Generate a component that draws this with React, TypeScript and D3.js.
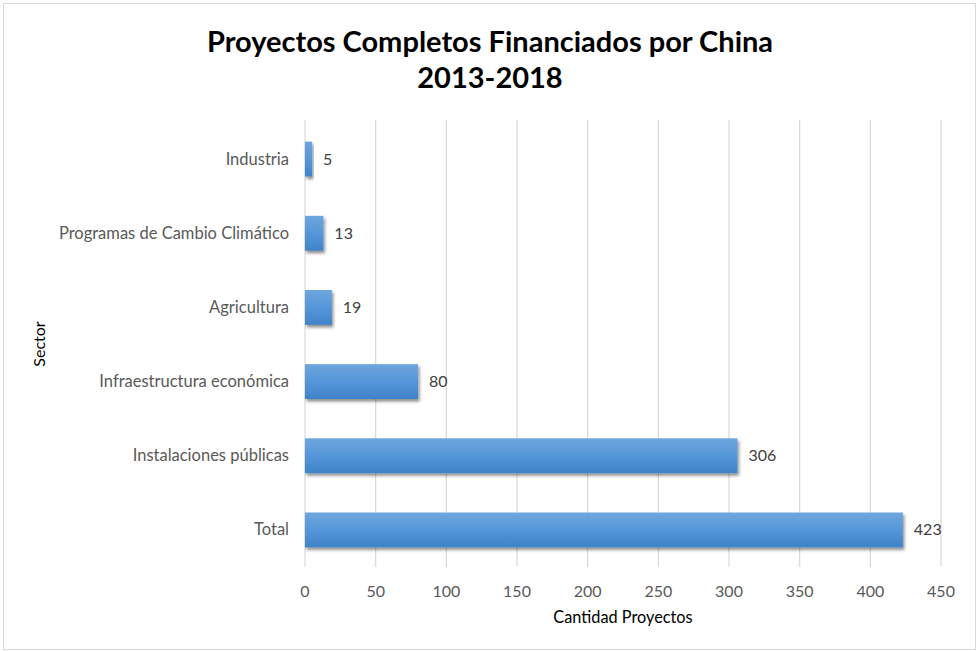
import React from "react";
import * as d3 from "d3";

const categories = [
  "Industria",
  "Programas de Cambio Climático",
  "Agricultura",
  "Infraestructura económica",
  "Instalaciones públicas",
  "Total",
];
const values = [5, 13, 19, 80, 306, 423];
const xTicks = [0, 50, 100, 150, 200, 250, 300, 350, 400, 450];
const titleLines = ["Proyectos Completos Financiados por China", "2013-2018"];
const xTitle = "Cantidad Proyectos";
const yTitle = "Sector";

const W = 977;
const H = 651;
const FONT = "Lato, 'Open Sans', sans-serif";

export default function App() {
  const x = d3.scaleLinear().domain([0, 450]).range([305, 941]);
  const y = d3.scaleBand().domain(categories).range([122, 567]).paddingInner(0.53).paddingOuter(0.265);
  const bw = y.bandwidth();
  return (
    <svg
      width={W}
      height={H}
      style={{ position: "absolute", left: 0, top: 0, background: "#fff" }}
      fontFamily={FONT}
    >
      <defs>
        <linearGradient id="barGrad" x1="0" y1="0" x2="0" y2="1">
          <stop offset="0" stopColor="#6ea6dd" />
          <stop offset="0.5" stopColor="#5597d9" />
          <stop offset="1" stopColor="#3f83c8" />
        </linearGradient>
        <filter id="shadow" x="-10%" y="-30%" width="130%" height="180%">
          <feDropShadow dx="1.5" dy="2.5" stdDeviation="1.6" floodColor="#000" floodOpacity="0.45" />
        </filter>
      </defs>
      <rect x={3.5} y={3.5} width={W - 5} height={H - 5} fill="#fff" stroke="#d9d9d9" strokeWidth={1} />
      {titleLines.map((t, i) => (
        <text
          key={i}
          x={490}
          y={52 + i * 36}
          textAnchor="middle"
          fontSize={29}
          fontWeight={700}
          fill="#000"
        >
          {t}
        </text>
      ))}
      {xTicks.map((t) => (
        <g key={t}>
          <line x1={x(t)} x2={x(t)} y1={120} y2={567} stroke="#d9d9d9" strokeWidth={1.2} />
          <text x={x(t)} y={597} textAnchor="middle" fontSize={16} fill="#595959">
            {t}
          </text>
        </g>
      ))}
      {categories.map((c, i) => {
        const yy = y(c)!;
        return (
          <g key={c}>
            <rect
              x={x(0)}
              y={yy}
              width={x(values[i]) - x(0)}
              height={bw}
              fill="url(#barGrad)"
              filter="url(#shadow)"
            />
            <text x={289} y={yy + bw / 2 + 5.5} textAnchor="end" fontSize={16.5} fill="#595959">
              {c}
            </text>
            <text x={x(values[i]) + 11} y={yy + bw / 2 + 5.5} fontSize={16} fill="#404040">
              {values[i]}
            </text>
          </g>
        );
      })}
      <text x={623} y={623} textAnchor="middle" fontSize={16.3} fill="#000">
        {xTitle}
      </text>
      <text
        transform={`translate(45,344) rotate(-90)`}
        textAnchor="middle"
        fontSize={16}
        fill="#000"
      >
        {yTitle}
      </text>
    </svg>
  );
}
